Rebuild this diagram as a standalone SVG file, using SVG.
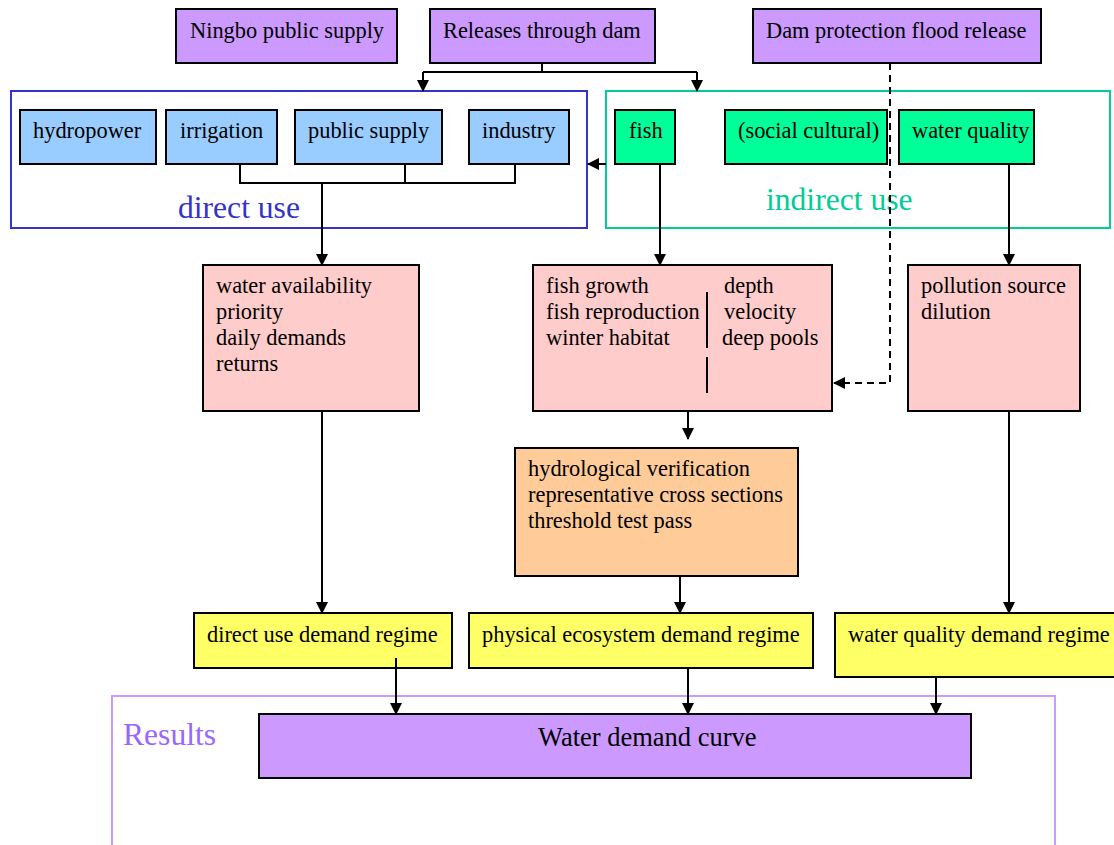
<svg xmlns="http://www.w3.org/2000/svg" width="1114" height="845" viewBox="0 0 1114 845">
<defs>
<marker id="ah" markerWidth="12" markerHeight="14" refX="11" refY="6" orient="auto" markerUnits="userSpaceOnUse" viewBox="0 0 12 12">
<path d="M0,0 L12,6 L0,12 Z" fill="#000"/>
</marker>
</defs>
<style>
text{font-family:"Liberation Serif","Times New Roman",serif;font-size:22.4px;fill:#000}
.n rect{stroke:#000;stroke-width:2}
.pu{fill:#cc99ff}.bl{fill:#99ccff}.gr{fill:#00ff99}.pk{fill:#ffcccc}.or{fill:#ffcc99}.ye{fill:#ffff66}
.c{stroke:#000;stroke-width:2;fill:none}
.a{marker-end:url(#ah)}
.d{stroke-dasharray:7,5}
.g{font-size:31.6px}
</style>
<rect width="1114" height="845" fill="#fff"/>
<g id="groups">
<rect x="11" y="91" width="576" height="137" fill="none" stroke="#3333cc" stroke-width="2"/>
<text class="g" x="178" y="218" style="fill:#3333cc">direct use</text>
<rect x="606" y="91" width="504" height="137" fill="none" stroke="#00cc99" stroke-width="2"/>
<text class="g" x="766" y="210" style="fill:#00cc99">indirect use</text>
<rect x="112" y="696" width="943" height="160" fill="none" stroke="#cc99ff" stroke-width="2"/>
<text class="g" x="123" y="745" style="fill:#9966ff">Results</text>
</g>
<g id="n_ningbo" class="n"><rect class="pu" x="176" y="9" width="221" height="54"/><text x="190" y="38">Ningbo public supply</text></g>
<g id="n_releases" class="n"><rect class="pu" x="430" y="9" width="225" height="54"/><text x="443" y="38">Releases through dam</text></g>
<g id="n_damprot" class="n"><rect class="pu" x="753" y="9" width="288" height="54"/><text x="766" y="38">Dam protection flood release</text></g>
<g id="n_hydro" class="n"><rect class="bl" x="20" y="110" width="136" height="54"/><text x="33" y="138">hydropower</text></g>
<g id="n_irrig" class="n"><rect class="bl" x="166" y="110" width="111" height="54"/><text x="180" y="138">irrigation</text></g>
<g id="n_pubsup" class="n"><rect class="bl" x="295" y="110" width="147" height="54"/><text x="308" y="138">public supply</text></g>
<g id="n_industry" class="n"><rect class="bl" x="469" y="110" width="100" height="54"/><text x="482" y="138">industry</text></g>
<g id="n_fish" class="n"><rect class="gr" x="615" y="110" width="60" height="54"/><text x="629" y="138">fish</text></g>
<g id="n_social" class="n"><rect class="gr" x="725" y="110" width="162" height="54"/><text x="738" y="138">(social cultural)</text></g>
<g id="n_wq" class="n"><rect class="gr" x="899" y="110" width="135" height="54"/><text x="912" y="138">water quality</text></g>
<g id="n_avail" class="n"><rect class="pk" x="203" y="265" width="216" height="146"/>
<text x="216" y="293">water availability</text><text x="216" y="319">priority</text><text x="216" y="345">daily demands</text><text x="216" y="371">returns</text></g>
<g id="n_fishreq" class="n"><rect class="pk" x="533" y="265" width="299" height="146"/>
<text x="546" y="293">fish growth</text><text x="546" y="319">fish reproduction</text><text x="546" y="345">winter habitat</text>
<text x="724" y="293">depth</text><text x="724" y="319">velocity</text><text x="722" y="345">deep pools</text>
<path class="c" d="M707,292 V348 M707,357 V393"/></g>
<g id="n_poll" class="n"><rect class="pk" x="908" y="265" width="172" height="146"/>
<text x="921" y="293">pollution source</text><text x="921" y="319">dilution</text></g>
<g id="n_hydver" class="n"><rect class="or" x="515" y="448" width="283" height="128"/>
<text x="528" y="476">hydrological verification</text><text x="528" y="502">representative cross sections</text><text x="528" y="528">threshold test pass</text></g>
<g id="n_dudr" class="n"><rect class="ye" x="194" y="613" width="258" height="55"/><text x="207" y="642">direct use demand regime</text></g>
<g id="n_pedr" class="n"><rect class="ye" x="469" y="613" width="344" height="55"/><text x="482" y="642">physical ecosystem demand regime</text></g>
<g id="n_wqdr" class="n"><rect class="ye" x="835" y="613" width="290" height="64"/><text x="848" y="642">water quality demand regime</text></g>
<g id="n_curve" class="n"><rect class="pu" x="259" y="714" width="712" height="64"/><text x="538" y="746" style="font-size:26.5px">Water demand curve</text></g>
<g id="connectors">
<path class="c" d="M542,63 V72 M423,72 H697"/>
<path class="c a" d="M423,72 V91"/>
<path class="c a" d="M697,72 V91"/>
<path class="c" d="M240,164 V183 H515 V164 M405,164 V183"/>
<path class="c a" d="M322,183 V265"/>
<path class="c a" d="M606,164 H588"/>
<path class="c a" d="M660,164 V265"/>
<path class="c a" d="M1009,164 V265"/>
<path class="c d a" d="M890,63 V383 H834"/>
<path class="c a" d="M322,411 V613"/>
<path class="c a" d="M688,411 V439"/>
<path class="c a" d="M680,576 V613"/>
<path class="c a" d="M1009,411 V613"/>
<path class="c a" d="M396,658 V714"/>
<path class="c a" d="M688,668 V714"/>
<path class="c a" d="M936,677 V714"/>
</g>
</svg>
